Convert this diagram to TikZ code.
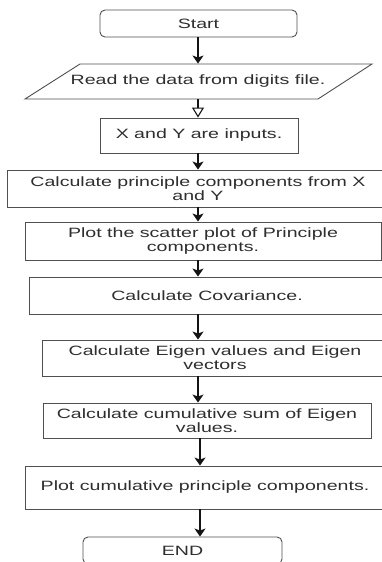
\documentclass[tikz,border=0pt]{standalone}
\usepackage{fontspec}
\setmainfont{Liberation Sans}[FakeStretch=1.45]
\usetikzlibrary{arrows.meta}
\definecolor{txt}{HTML}{2E2E2E}
\definecolor{edge}{HTML}{505050}
\begin{document}
\begin{tikzpicture}[x=1pt,y=-1pt,
  box/.style={draw=edge, line width=0.9pt, inner sep=0pt, align=center, text=txt,
    font=\fontsize{13.5}{14.2}\selectfont},
  term/.style={box, rounded corners=5pt},
  flow/.style={draw=black!92, line width=1.3pt, -{Stealth[length=8pt,width=11pt,inset=2pt]}},
  openflow/.style={draw=black!92, line width=1.1pt, -{Triangle[open,length=10pt,width=12pt,fill=white]}}]
\useasboundingbox (0,0) rectangle (382,562);
\clip (0,0) rectangle (382,562);
\fill[white] (0,0) rectangle (382,562);
\coordinate (col) at (198,0);
\coordinate (colb) at (200,0);

\node[term, minimum width=197pt, minimum height=27pt] (start) at (198.5,23.5) {Start};

\draw[edge, line width=0.9pt] (80,64) -- (372,64) -- (318,99) -- (25,99) -- cycle;
\node[box, draw=none, minimum height=35pt] (read) at (198,81.5) {Read the data from digits file.};

\node[box, minimum width=198pt, minimum height=35pt] (xy) at (199,135.5) {X and Y are inputs.};
\node[box, minimum width=382pt, minimum height=37pt] (pc) at (198,188.5) {Calculate principle components from X\\and Y};
\node[box, minimum width=356pt, minimum height=38pt] (scatter) at (203,241) {Plot the scatter plot of Principle\\components.};
\node[box, minimum width=356pt, minimum height=37pt] (cov) at (207,295.5) {Calculate Covariance.};
\node[box, minimum width=346pt, minimum height=36pt] (eig) at (215,358) {Calculate Eigen values and Eigen\\vectors};
\node[box, minimum width=328pt, minimum height=35pt] (cum) at (207,420.5) {Calculate cumulative sum of Eigen\\values.};
\node[box, minimum width=360pt, minimum height=43pt] (plotcum) at (205,487.5) {Plot cumulative principle components.};
\node[term, minimum width=199pt, minimum height=27pt] (end) at (182.5,550.5) {END};

\draw[flow] (start.south -| col) -- (read.north -| col);
\draw[openflow] (read.south -| col) -- (xy.north -| col);
\draw[flow] (xy.south -| col) -- (pc.north -| col);
\draw[flow] (pc.south -| col) -- (scatter.north -| col);
\draw[flow] (scatter.south -| col) -- (cov.north -| col);
\draw[flow] (cov.south -| col) -- (eig.north -| col);
\draw[flow] (eig.south -| col) -- (cum.north -| col);
\draw[flow] (cum.south -| colb) -- (plotcum.north -| colb);
\draw[flow] (plotcum.south -| colb) -- (end.north -| colb);
\end{tikzpicture}
\end{document}
